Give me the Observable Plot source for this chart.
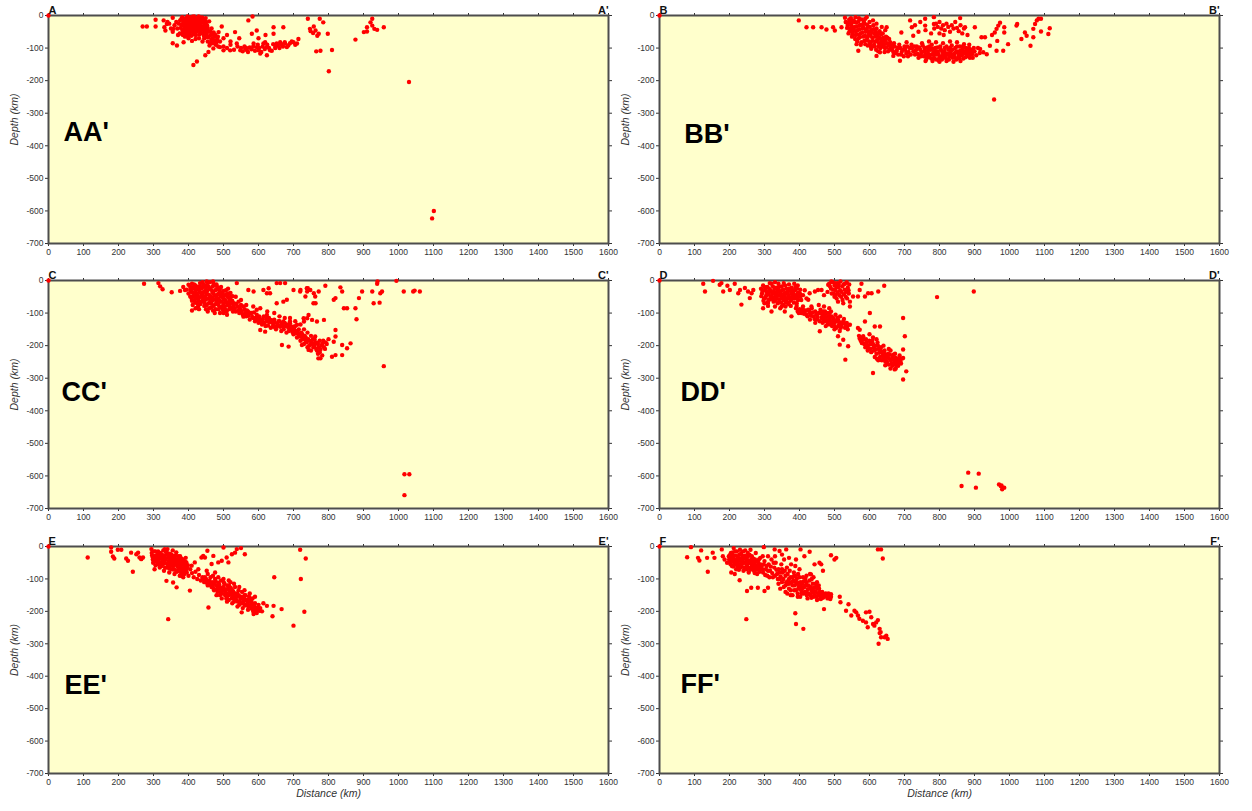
<!DOCTYPE html>
<html><head><meta charset="utf-8">
<script src="https://cdn.jsdelivr.net/npm/d3@7"></script>
<script src="https://cdn.jsdelivr.net/npm/@observablehq/plot@0.6"></script>
<style>
body{margin:0;background:#fff;}
#wrap{position:relative;width:1252px;height:811px;overflow:hidden;background:#fff;}
#wrap svg{position:absolute;}
</style></head><body><div id="wrap"></div>
<script>
// Section names
const sectionNames = ["A","B","C","D","E","F"];
// Axis ticks
const xTicks = d3.range(0, 1601, 100);
const yTicks = d3.range(-700, 1, 100);
// Big section-label anchor (distance km, depth km)
const labelAnchors = [[43,-360],[71,-365],[37,-344],[60,-344],[46,-428],[60,-425]];

// [distance km, depth km]
const quakesA = [
[0,0],[269,-34],[281,-34],[306,-13],[306,-34],[329,-15],[331,-36],[334,-46],[338,-26],[355,-7],[357,-41],[355,-85],[367,-92],[376,-15],[381,-56],[386,-82],[433,-7],[443,-36],[452,-46],[457,-66],[462,-86],[471,-101],[448,-122],[457,-112],[481,-77],[486,-51],[495,-34],[490,-97],[500,-107],[519,-107],[533,-51],[538,-86],[548,-107],[562,-102],[571,-15],[567,-107],[581,-56],[583,-3],[586,-86],[595,-97],[595,-46],[605,-117],[600,-107],[614,-86],[624,-97],[624,-122],[619,-82],[633,-107],[643,-56],[643,-36],[648,-97],[652,-86],[662,-82],[671,-36],[676,-86],[681,-97],[700,-82],[710,-86],[714,-72],[414,-152],[424,-141],
[741,-10],[747,-41],[749,-48],[758,-34],[756,-54],[763,-46],[768,-62],[772,-56],[765,-110],[775,-10],[777,-108],[785,-21],[798,-56],[810,-106],[801,-171],[877,-74],[901,-51],[910,-49],[910,-36],[920,-21],[925,-10],[925,-31],[931,-41],[939,-44],[958,-36],[1030,-204],[1101,-600],[1096,-623],
[380,-10],[385,-22],[388,-35],[392,-8],[395,-18],[398,-28],[400,-40],[402,-5],[405,-15],[407,-25],[410,-35],[412,-45],[415,-12],[418,-22],[420,-32],[422,-50],[425,-8],[428,-18],[430,-28],[432,-40],[435,-12],[438,-22],[440,-55],[383,-45],[390,-52],[396,-60],[403,-52],[408,-62],[414,-58],[420,-42],[426,-38],[392,-28],[399,-12],[416,-3],[424,-26],[433,-50],[411,-18],[405,-44],[397,-48],[386,-30],[378,-38],[372,-25],[368,-40],[365,-20],[360,-30],[375,-55],[370,-60],[445,-30],[448,-42],[450,-20],[452,-55],[455,-38],[458,-65],[462,-48],[465,-75],[468,-58],[470,-85],[475,-65],[478,-90],[482,-72],[485,-95],[460,-92],[455,-80],[445,-70],[440,-80],[430,-70],[420,-72],[410,-78],[400,-70],[390,-65],[345,-25],[350,-40],[340,-20],[355,-50],
[379,-28],[382,-5],[384,-60],[387,-14],[389,-44],[391,-38],[393,-20],[394,-55],[397,-3],[398,-36],[401,-22],[401,-60],[404,-33],[406,-8],[409,-50],[409,-27],[411,-4],[413,-30],[414,-40],[417,-52],[419,-8],[419,-17],[421,-60],[423,-14],[426,-47],[427,-30],[429,-3],[431,-58],[434,-22],[436,-45],[437,-33],[439,-6],[441,-40],[442,-14],[444,-62],[446,-50],[447,-24],[449,-8],[451,-66],[453,-30],[456,-48],[459,-18],[463,-60],[466,-40],[469,-70],[472,-52],[474,-78],[477,-60],[480,-82],[484,-65],
[500,-95],[510,-100],[520,-90],[530,-105],[540,-95],[550,-100],[555,-110],[560,-95],[565,-100],[570,-112],[575,-98],[580,-104],[585,-95],[590,-108],[598,-90],[602,-100],[608,-112],[612,-95],[618,-103],[625,-90],[630,-100],[638,-108],[642,-88],[648,-100],[655,-92],[660,-100],[665,-88],[670,-95],[675,-82],[685,-92],[690,-85],[695,-80],[705,-90],[500,-70],[510,-60],[520,-80],[490,-80],[545,-70],[600,-70],[620,-60]
];

const quakesB = [
[0,0],[398,-15],[420,-36],[439,-36],[463,-36],[477,-43],[496,-36],[501,-46],[520,-36],[530,-7],[534,-21],[568,-108],[563,-88],[592,-5],[620,-124],[630,-113],[649,-36],[663,-93],[668,-124],[687,-139],[691,-52],[706,-82],[716,-15],[721,-36],[725,-62],[735,-103],[744,-124],[759,-10],[759,-31],
[784,-5],[784,-26],[859,-8],[873,-36],[901,-36],[920,-67],[930,-67],[916,-103],[925,-113],[935,-119],[944,-93],[950,-60],[958,-52],[963,-41],[968,-31],[973,-22],[965,-78],[963,-108],[982,-108],[985,-36],[985,-52],[996,-88],[1020,-31],[1022,-26],[1034,-72],[1044,-52],[1049,-62],[1060,-93],[1068,-67],[1068,-41],[1073,-26],[1078,-15],[1083,-10],[1090,-10],[1090,-49],[1111,-57],[1115,-39],[956,-258],
[532,-20],[538,-30],[542,-12],[545,-40],[548,-25],[552,-50],[555,-15],[558,-35],[560,-60],[563,-22],[566,-45],[569,-70],[572,-30],[575,-55],[578,-12],[580,-40],[583,-65],[586,-25],[589,-50],[592,-75],[595,-35],[598,-58],[600,-20],[602,-85],[605,-45],[608,-68],[611,-30],[614,-55],[617,-80],[620,-40],[623,-62],[626,-95],[629,-48],[632,-72],[635,-88],[638,-55],[641,-78],[644,-100],[647,-65],[650,-85],[653,-110],[656,-72],[540,-55],[550,-65],[565,-80],[575,-90],[585,-78],[595,-92],[605,-102],[615,-95],[625,-110],[588,-10],[570,-8],[610,-15],[620,-25],[635,-35],[645,-45],[560,-5],[547,-8],
[536,-38],[541,-22],[543,-48],[546,-15],[549,-33],[551,-58],[554,-42],[557,-20],[559,-72],[561,-48],[564,-34],[567,-58],[568,-18],[571,-42],[573,-66],[576,-28],[577,-82],[579,-52],[582,-35],[584,-20],[587,-62],[588,-88],[590,-42],[593,-28],[594,-68],[597,-48],[599,-80],[601,-35],[603,-62],[604,-95],[607,-52],[609,-78],[612,-42],[613,-90],[616,-65],[618,-50],[619,-105],[622,-75],[624,-55],[627,-85],[628,-68],[631,-100],[633,-58],[634,-80],[637,-95],[639,-68],[642,-88],[643,-112],[646,-75],[649,-98],[651,-68],[654,-90],[657,-105],[659,-82],
[660,-95],[665,-105],[670,-85],[675,-115],[680,-100],[685,-90],[690,-120],[695,-105],[700,-95],[705,-115],[710,-125],[715,-100],[720,-90],[725,-110],[730,-120],[735,-95],[740,-130],[745,-105],[748,-115],[752,-92],[755,-125],[758,-108],[762,-135],[765,-98],[768,-118],[772,-128],[775,-105],[778,-90],[782,-115],[785,-132],[788,-100],[792,-120],[795,-110],[798,-138],[802,-95],[805,-125],[808,-112],[812,-130],[815,-100],[818,-118],[822,-135],[825,-105],[828,-125],[832,-112],[835,-92],[838,-130],[842,-118],[845,-100],[848,-135],[852,-110],[855,-125],[858,-95],[862,-118],[865,-105],[868,-132],[872,-115],[875,-100],[878,-125],[882,-110],[885,-90],[888,-120],[892,-105],[895,-130],[750,-85],[770,-80],[790,-82],[810,-85],[830,-80],[850,-82],[870,-88],[900,-110],[905,-122],[910,-100],[915,-115],[760,-140],[780,-140],[800,-142],[820,-140],[840,-142],[860,-140],
[663,-98],[668,-112],[672,-95],[678,-108],[682,-120],[688,-100],[692,-112],[698,-125],[702,-105],[708,-95],[712,-112],[718,-120],[722,-100],[728,-95],[732,-108],[738,-118],[742,-98],[747,-125],[750,-112],[757,-100],[760,-118],[764,-128],[767,-108],[771,-95],[774,-120],[777,-132],[780,-102],[784,-122],[787,-110],[791,-135],[794,-98],[797,-118],[800,-128],[804,-105],[807,-135],[811,-120],[814,-110],[817,-128],[820,-95],[824,-118],[827,-135],[830,-100],[834,-122],[837,-105],[840,-120],[844,-128],[847,-112],[850,-95],[854,-118],[857,-132],[860,-108],[864,-122],[867,-95],[870,-112],[874,-128],[877,-108],[880,-118],[884,-100],[887,-130],[890,-112],[894,-118],[898,-100],
[790,-25],[795,-35],[800,-20],[805,-40],[810,-30],[815,-45],[820,-25],[825,-35],[830,-50],[835,-30],[840,-40],[845,-20],[850,-38],[855,-48],[860,-30],[865,-55],[870,-40],[880,-60],[800,-55],[812,-60],[785,-40],[776,-55],[760,-45],[740,-50],[730,-30],[745,-20]
];

const quakesC = [
[0,0],[273,-10],[314,-8],[319,-18],[326,-27],[352,-36],[376,-32],[390,-29],[400,-13],[405,-49],[410,-92],[452,-3],[471,-8],[490,-24],[519,-59],[529,-85],[538,-8],[543,-65],[548,-90],[557,-111],[567,-100],[571,-29],[586,-34],[595,-90],[600,-116],[614,-131],[605,-152],[619,-157],[624,-106],[633,-121],[633,-39],[629,-24],[652,-8],[662,-8],[676,-8],[643,-142],[662,-142],[667,-198],[686,-203],[671,-126],[690,-131],[700,-142],[710,-136],[710,-157],[719,-172],[724,-198],[729,-116],[738,-183],[743,-213],[752,-193],[762,-172],[771,-239],[757,-70],[762,-49],[748,-29],[738,-24],[700,-29],[719,-34],[624,-39],[614,-29],[671,-65],[652,-70],[681,-59],
[720,-29],[734,-49],[739,-34],[741,-24],[758,-39],[763,-70],[772,-34],[791,-16],[739,-116],[730,-126],[743,-106],[753,-121],[767,-126],[787,-121],[777,-239],[820,-152],[820,-172],[815,-188],[810,-234],[820,-229],[839,-229],[839,-198],[853,-208],[863,-193],[834,-21],[839,-34],[815,-59],[820,-54],[844,-85],[853,-85],[877,-85],[880,-119],[887,-54],[896,-34],[925,-34],[929,-70],[940,-3],[939,-10],[948,-39],[946,-68],[953,-34],[994,-1],[1015,-34],[1042,-34],[1046,-31],[1061,-34],[958,-263],[1017,-595],[1031,-595],[1017,-659],
[405,-20],[408,-35],[410,-10],[413,-48],[415,-25],[418,-60],[420,-15],[423,-40],[425,-70],[428,-28],[430,-52],[433,-8],[435,-38],[438,-65],[440,-20],[443,-48],[445,-78],[448,-30],[450,-58],[453,-12],[455,-42],[458,-70],[460,-25],[463,-50],[465,-82],[468,-35],[470,-60],[473,-15],[475,-45],[478,-72],[480,-28],[483,-55],[485,-88],[488,-38],[490,-65],[493,-20],[495,-48],[498,-78],[500,-32],[503,-58],[505,-90],[508,-42],[510,-68],[513,-25],[515,-52],[518,-80],[520,-38],[525,-62],[528,-75],[440,-5],[460,-5],[470,-3],[480,-12],[430,-88],[450,-88],[470,-92],[490,-100],[420,-85],[400,-40],[395,-28],[385,-20],[410,-62],[455,-95],[475,-100],[500,-100],[510,-105],
[406,-30],[409,-55],[411,-22],[412,-75],[414,-38],[416,-12],[417,-48],[419,-68],[421,-30],[422,-55],[424,-20],[426,-45],[427,-80],[429,-62],[431,-18],[432,-35],[434,-72],[436,-50],[437,-25],[439,-42],[441,-60],[442,-12],[444,-35],[446,-68],[447,-50],[449,-20],[451,-40],[452,-75],[454,-30],[456,-55],[457,-18],[459,-85],[461,-45],[462,-62],[464,-28],[466,-70],[467,-52],[469,-18],[471,-40],[472,-78],[474,-58],[476,-30],[477,-88],[479,-50],[481,-65],[482,-20],[484,-42],[486,-75],[487,-58],[489,-30],[491,-82],[492,-48],[494,-65],[496,-38],[497,-90],[499,-55],[501,-70],[502,-45],[504,-80],[506,-62],[507,-30],[509,-95],[511,-50],[512,-75],[514,-40],[516,-88],[517,-60],[519,-70],[521,-50],[523,-85],[526,-48],[527,-95],
[530,-70],[535,-95],[540,-80],[545,-100],[550,-75],[555,-105],[560,-88],[565,-110],[570,-95],[575,-120],[580,-100],[585,-115],[590,-125],[595,-105],[600,-130],[605,-118],[610,-135],[615,-110],[620,-140],[625,-125],[630,-115],[635,-145],[640,-130],[645,-120],[650,-150],[655,-135],[660,-125],[665,-155],[670,-140],[675,-130],[680,-160],[685,-145],[690,-125],[695,-150],[700,-165],[705,-140],[710,-175],[715,-150],[720,-185],[725,-165],[730,-195],[735,-175],[740,-205],[745,-185],[750,-215],[755,-195],[760,-180],[765,-210],[770,-195],[775,-220],[780,-200],[785,-185],[790,-210],[795,-195],[800,-180],[740,-160],[750,-170],[760,-200],[770,-225],[782,-230],[730,-150],[720,-135],[705,-125],[690,-115],[675,-115],[660,-110],[645,-100],[625,-95],[605,-85],[585,-80],[565,-75],[550,-60],[535,-50],
[532,-85],[537,-72],[542,-92],[547,-85],[552,-95],[557,-80],[562,-100],[567,-92],[572,-108],[577,-100],[582,-112],[587,-98],[592,-115],[597,-120],[602,-110],[607,-128],[612,-120],[617,-130],[622,-118],[627,-138],[632,-128],[637,-122],[642,-138],[647,-130],[652,-142],[657,-125],[662,-140],[667,-132],[672,-150],[677,-140],[682,-135],[687,-155],[692,-140],[697,-158],[702,-150],[707,-162],[712,-155],[717,-170],[722,-160],[727,-180],[732,-170],[737,-190],[742,-180],[747,-198],[752,-188],[757,-205],[762,-192],[767,-215],[772,-205],[777,-212],[782,-195],[787,-205],[792,-190],[745,-200],[735,-185],[725,-175],[715,-165],[705,-155],[765,-190],[775,-185],[755,-180]
];

const quakesD = [
[0,0],[125,-10],[130,-34],[153,-1],[172,-13],[177,-8],[182,-34],[194,-16],[201,-29],[215,-10],[225,-39],[230,-29],[234,-74],[244,-23],[253,-34],[263,-39],[268,-29],[258,-54],[296,-85],[310,-69],[320,-95],[349,-80],[358,-95],[368,-69],[377,-110],[396,-49],[401,-39],[410,-90],[425,-59],[429,-39],[434,-80],[444,-34],[453,-29],[458,-156],[463,-29],[468,-120],[482,-13],[491,-3],[501,-8],[510,-171],[515,-197],[525,-182],[531,-243],[539,-202],[544,-136],[544,-80],[553,-49],[567,-49],[572,-29],[577,-10],[587,-49],[596,-39],[606,-39],[625,-34],[642,-16],[567,-146],[572,-151],[582,-171],[587,-126],[601,-100],[615,-141],[630,-141],[610,-284],[687,-243],[696,-212],[696,-115],[701,-171],[696,-238],[705,-279],[696,-304],[672,-273],
[793,-51],[898,-34],[882,-590],[912,-593],[863,-631],[904,-636],[970,-626],[975,-631],[979,-641],[985,-636],[977,-629],
[290,-25],[293,-40],[296,-15],[299,-55],[302,-30],[305,-45],[308,-20],[311,-60],[314,-35],[317,-50],[320,-10],[323,-40],[326,-65],[329,-25],[332,-50],[335,-35],[338,-70],[341,-20],[344,-45],[347,-55],[350,-30],[353,-75],[356,-40],[359,-15],[362,-58],[365,-35],[368,-48],[371,-25],[374,-62],[377,-40],[380,-30],[383,-55],[386,-45],[389,-20],[392,-70],[395,-38],[398,-50],[402,-28],[405,-60],[300,-70],[310,-78],[330,-80],[345,-85],[360,-80],[375,-78],[315,-8],[330,-5],[340,-10],[355,-8],[370,-12],[385,-10],[395,-15],[410,-45],[415,-30],[420,-55],
[291,-48],[294,-32],[297,-62],[300,-20],[303,-52],[306,-35],[309,-68],[312,-42],[313,-25],[316,-58],[318,-30],[321,-48],[324,-18],[325,-55],[327,-35],[330,-62],[331,-42],[333,-22],[336,-55],[337,-45],[339,-28],[342,-62],[343,-35],[346,-40],[348,-68],[349,-18],[351,-48],[354,-28],[355,-60],[357,-50],[360,-38],[361,-68],[363,-25],[366,-55],[367,-42],[369,-72],[372,-52],[373,-32],[376,-58],[378,-22],[379,-48],[382,-38],[384,-68],[387,-30],[388,-55],[391,-45],[393,-25],[396,-60],[399,-40],[403,-48],
[390,-85],[395,-95],[400,-88],[405,-100],[410,-80],[415,-95],[420,-105],[425,-90],[430,-100],[435,-85],[440,-110],[445,-95],[450,-120],[455,-100],[460,-90],[463,-115],[466,-130],[470,-105],[473,-95],[476,-120],[480,-135],[483,-110],[486,-100],[490,-125],[493,-140],[496,-115],[500,-130],[503,-105],[506,-145],[510,-120],[513,-135],[516,-110],[520,-140],[525,-125],[530,-145],[535,-130],[538,-150],[455,-75],[470,-80],[485,-85],[445,-130],[430,-120],[500,-150],[515,-155],[490,-95],[475,-140],
[392,-78],[398,-100],[403,-92],[408,-88],[413,-102],[418,-92],[423,-110],[428,-95],[433,-108],[438,-98],[443,-118],[448,-105],[452,-112],[458,-125],[461,-100],[465,-110],[468,-95],[472,-125],[475,-112],[478,-100],[481,-125],[485,-118],[488,-135],[492,-110],[495,-130],[498,-120],[501,-140],[505,-125],[508,-115],[512,-140],[515,-128],[518,-145],[522,-132],[527,-118],[532,-135],[536,-142],
[485,-10],[490,-25],[495,-5],[498,-40],[500,-15],[503,-30],[506,-55],[508,-8],[511,-20],[514,-45],[517,-3],[520,-35],[523,-60],[526,-12],[529,-28],[532,-50],[535,-5],[538,-22],[541,-40],[544,-65],[510,-65],[525,-70],[500,-50],[480,-35],[470,-45],
[487,-18],[492,-40],[496,-28],[502,-45],[505,-20],[509,-38],[512,-12],[516,-30],[519,-50],[522,-18],[527,-42],[530,-10],[533,-35],[536,-55],[540,-30],[542,-12],
[570,-170],[575,-185],[580,-175],[585,-195],[590,-180],[595,-200],[600,-185],[603,-210],[606,-195],[610,-175],[613,-215],[616,-200],[620,-225],[623,-190],[626,-210],[630,-235],[633,-205],[636,-220],[640,-240],[643,-215],[646,-230],[650,-250],[653,-225],[656,-240],[660,-215],[663,-255],[666,-235],[670,-245],[673,-225],[676,-260],[680,-240],[683,-250],[686,-230],[690,-255],[610,-195],[625,-245],[645,-260],[660,-270],[675,-270],[595,-215],[615,-235],[600,-165],[620,-180],[640,-200],[655,-210],
[572,-178],[578,-192],[583,-182],[588,-205],[592,-190],[598,-208],[602,-195],[605,-220],[608,-185],[612,-205],[618,-212],[621,-240],[624,-200],[628,-222],[632,-215],[635,-245],[638,-230],[642,-225],[645,-248],[648,-238],[652,-232],[655,-258],[658,-228],[661,-245],[665,-262],[668,-228],[672,-255],[675,-238],[678,-250],[682,-262],[685,-242],[688,-248],[692,-240]
];

const quakesE = [
[0,0],[112,-34],[179,-3],[179,-16],[184,-31],[188,-37],[198,-10],[208,-10],[222,-37],[227,-44],[236,-19],[241,-78],[251,-24],[256,-19],[260,-34],[265,-39],[270,-34],[294,-8],[298,-34],[303,-70],[313,-54],[332,-8],[337,-106],[342,-224],[356,-111],[366,-126],[370,-75],[380,-90],[394,-49],[404,-136],[409,-59],[418,-49],[428,-70],[437,-34],[442,-29],[447,-34],[452,-75],[454,-13],[457,-188],[466,-54],[471,-29],[476,-80],[485,-49],[495,-44],[500,-3],[509,-34],[514,-49],[524,-24],[533,-19],[538,-8],[550,-5],[561,-24],[514,-131],[533,-162],[552,-203],[586,-208],[600,-193],[614,-175],[624,-183],[640,-215],[643,-183],[645,-95],[666,-193],[700,-244],[719,-10],[721,-100],[735,-37],[731,-201],
[295,-20],[298,-40],[302,-30],[305,-15],[308,-45],[311,-25],[314,-55],[317,-35],[320,-20],[323,-60],[326,-40],[329,-28],[332,-50],[335,-15],[338,-65],[341,-35],[344,-45],[347,-22],[350,-58],[353,-38],[356,-70],[359,-28],[362,-50],[365,-40],[368,-62],[371,-30],[374,-48],[377,-75],[380,-38],[383,-55],[386,-45],[389,-68],[392,-35],[395,-80],[398,-58],[340,-8],[355,-12],[365,-18],[330,-75],[345,-80],[360,-85],[375,-90],[385,-95],[400,-90],[405,-70],[410,-82],[415,-95],[420,-78],[425,-100],[430,-88],[435,-105],
[296,-28],[299,-50],[301,-15],[303,-42],[306,-58],[307,-28],[309,-35],[312,-48],[313,-15],[315,-40],[318,-65],[319,-28],[321,-50],[322,-38],[324,-25],[327,-55],[328,-12],[330,-45],[331,-32],[333,-65],[334,-40],[336,-25],[337,-52],[339,-20],[342,-58],[343,-28],[345,-68],[346,-50],[348,-35],[349,-42],[351,-25],[352,-70],[354,-50],[355,-30],[357,-60],[358,-45],[360,-35],[361,-72],[363,-55],[364,-28],[366,-48],[367,-78],[369,-40],[370,-58],[372,-68],[373,-38],[375,-55],[376,-30],[378,-62],[379,-82],[381,-48],[382,-68],[384,-40],[385,-78],[387,-55],[388,-85],[390,-62],[391,-48],[393,-72],[396,-65],
[440,-95],[445,-110],[450,-100],[455,-120],[460,-105],[463,-95],[466,-125],[470,-110],[473,-135],[476,-100],[480,-120],[483,-140],[486,-112],[490,-130],[493,-105],[496,-145],[500,-125],[503,-115],[506,-140],[510,-155],[513,-130],[516,-120],[520,-145],[523,-160],[526,-135],[530,-150],[533,-125],[536,-165],[540,-145],[543,-135],[546,-170],[550,-155],[553,-140],[556,-175],[560,-160],[563,-150],[566,-180],[570,-165],[573,-155],[576,-185],[580,-170],[583,-160],[586,-190],[590,-175],[595,-195],[600,-180],[605,-190],[610,-200],[500,-100],[515,-105],[530,-115],[545,-125],[560,-135],[575,-145],[590,-155],[480,-150],[495,-160],[510,-170],[525,-175],[540,-185],[555,-190],[570,-195],[585,-200],[595,-205],[520,-110],[505,-150],[490,-150],[470,-90],[485,-95],[455,-85],
[442,-102],[447,-95],[452,-112],[457,-108],[461,-118],[464,-112],[468,-120],[471,-128],[474,-115],[478,-108],[481,-132],[484,-125],[488,-118],[491,-140],[494,-128],[498,-135],[501,-112],[504,-132],[508,-145],[511,-120],[514,-150],[518,-138],[521,-128],[524,-150],[528,-140],[531,-160],[534,-145],[538,-155],[541,-170],[544,-152],[548,-162],[551,-175],[554,-158],[558,-168],[561,-182],[564,-165],[568,-175],[571,-185],[574,-170],[578,-180],[581,-192],[584,-178],[588,-185],[592,-198],[598,-188],[603,-198],[508,-160],[515,-165],[530,-170],[545,-180],[560,-150],[575,-160]
];

const quakesF = [
[0,0],[79,-33],[90,-2],[110,-35],[114,-43],[119,-12],[136,-35],[138,-78],[152,-19],[157,-35],[178,-9],[181,-30],[186,-40],[193,-50],[229,-104],[248,-224],[250,-137],[262,-127],[281,-127],[298,-2],[295,-30],[300,-137],[310,-127],[329,-9],[343,-14],[362,-9],[388,-206],[390,-239],[411,-254],[403,-9],[414,-30],[429,-16],[433,-86],[443,-55],[457,-50],[462,-55],[467,-75],[470,-193],[481,-157],[490,-27],[490,-147],[500,-40],[505,-35],[515,-155],[517,-172],[533,-198],[540,-178],[548,-213],[557,-198],[562,-203],[567,-213],[571,-223],[581,-229],[590,-234],[595,-249],[590,-203],[600,-201],[605,-218],[610,-239],[614,-244],[619,-234],[624,-227],[629,-254],[632,-264],[626,-300],[633,-280],[643,-280],[648,-275],[652,-285],[624,-9],[633,-9],[638,-37],[629,-267],
[198,-30],[201,-45],[204,-20],[207,-60],[210,-35],[213,-50],[216,-15],[219,-70],[222,-40],[225,-55],[228,-25],[231,-65],[234,-45],[237,-30],[240,-75],[243,-50],[246,-35],[249,-60],[252,-20],[255,-80],[258,-45],[261,-65],[264,-30],[267,-55],[270,-75],[273,-40],[276,-60],[279,-85],[282,-50],[285,-70],[288,-35],[205,-80],[215,-85],[230,-10],[245,-12],[260,-10],[275,-20],[212,-5],
[199,-40],[202,-25],[203,-55],[206,-35],[208,-45],[209,-18],[211,-62],[212,-28],[214,-40],[217,-55],[218,-28],[220,-48],[221,-15],[223,-62],[224,-32],[226,-45],[227,-72],[229,-38],[232,-55],[233,-22],[235,-62],[236,-40],[238,-52],[239,-15],[241,-38],[242,-65],[244,-28],[247,-48],[248,-70],[250,-40],[251,-55],[253,-30],[254,-65],[256,-50],[257,-25],[259,-72],[262,-40],[263,-55],[265,-45],[266,-68],[268,-38],[269,-60],[271,-50],[272,-82],[274,-65],[277,-45],[278,-72],[280,-58],[283,-65],[284,-40],[286,-78],[289,-55],
[292,-60],[296,-80],[300,-45],[304,-70],[308,-90],[312,-55],[316,-75],[320,-40],[324,-95],[328,-65],[332,-50],[336,-85],[340,-70],[344,-100],[348,-55],[352,-80],[356,-40],[360,-90],[364,-65],[368,-105],[372,-75],[376,-55],[380,-95],[384,-80],[388,-60],[392,-100],[396,-85],[400,-70],[404,-110],[310,-30],[330,-30],[350,-25],[370,-35],[390,-40],
[294,-70],[298,-55],[302,-88],[306,-60],[310,-75],[314,-95],[318,-62],[322,-82],[326,-50],[330,-90],[334,-72],[338,-100],[342,-80],[346,-92],[350,-70],[354,-100],[358,-75],[362,-110],[366,-85],[370,-115],[374,-95],[378,-110],[382,-105],[386,-120],[389,-92],[393,-115],[397,-130],[400,-112],[403,-125],[406,-145],[409,-128],[412,-108],[415,-140],[418,-120],[421,-150],[424,-132],[427,-145],[431,-125],[434,-158],[437,-142],[440,-128],[443,-150],[446,-138],[449,-155],[452,-130],[455,-150],[458,-140],[461,-162],[464,-148],[467,-158],[472,-148],[478,-152],[483,-145],[488,-162],[360,-120],[375,-135],[390,-135],[405,-115],[420,-110],[435,-100],[445,-115],
[340,-115],[345,-130],[350,-110],[355,-125],[360,-140],[365,-115],[370,-130],[375,-150],[380,-120],[385,-135],[390,-110],[395,-145],[398,-125],[402,-155],[405,-135],[408,-115],[411,-145],[414,-125],[417,-100],[420,-140],[423,-160],[426,-120],[429,-105],[432,-150],[435,-135],[438,-115],[441,-155],[444,-140],[447,-125],[450,-165],[453,-145],[456,-130],[459,-160],[462,-150],[410,-95],[420,-90],[430,-85],[440,-95],[450,-110],[455,-120],[465,-140],[470,-155],[475,-145],[480,-160],[485,-150],[490,-155],[395,-155],[380,-150],[365,-145],[370,-100],[385,-90],[400,-95]
];

const quakes = [quakesA, quakesB, quakesC, quakesD, quakesE, quakesF];

const wrap = document.getElementById("wrap");
const colLeft = [0, 611];
const rowTop = [0, 265, 531];
const fontSans = "Liberation Sans, Arial, Helvetica, sans-serif";
const plain = d => String(d);

sectionNames.forEach((name, i) => {
  const col = i % 2, row = Math.floor(i / 2);
  const isBottom = row === 2;
  const mb = isBottom ? 38 : 22;
  const fh = isBottom ? 227 : 228;
  const marks = [
    Plot.frame({fill: "#ffffcc"}),
    Plot.axisX({anchor: "bottom", ticks: xTicks, tickSize: 3, tickPadding: 2, tickFormat: plain, label: null, fontSize: 8.5}),
    Plot.axisX({anchor: "top", ticks: xTicks, tickSize: 3, tickFormat: () => "", label: null}),
    Plot.axisY({anchor: "left", ticks: yTicks, tickSize: 3, tickPadding: 2, tickFormat: plain, label: null, fontSize: 8.5}),
    Plot.axisY({anchor: "right", ticks: yTicks, tickSize: 3, tickFormat: () => "", label: null}),
    Plot.frame({stroke: "#4d4d4d", strokeWidth: 2}),
    Plot.dot(quakes[i], {x: d => d[0], y: d => d[1], r: 2.2, fill: "#ff0000"}),
    Plot.text([name], {text: d => d, frameAnchor: "top-left", dy: -9, fontWeight: "bold", fontSize: 11, fill: "#111"}),
    Plot.text([name + "'"], {text: d => d, frameAnchor: "top-right", dy: -9, fontWeight: "bold", fontSize: 11, fill: "#111"}),
    Plot.text([name + name + "'"], {text: d => d, x: labelAnchors[i][0], y: labelAnchors[i][1], textAnchor: "start", fontSize: 27, fontWeight: "bold", fill: "#000"}),
    Plot.text(["Depth (km)"], {text: d => d, frameAnchor: "left", dx: -34, dy: 16, rotate: -90, fontStyle: "italic", fontSize: 10.5, fill: "#333"})
  ];
  if (isBottom) marks.push(Plot.text(["Distance (km)"], {text: d => d, frameAnchor: "bottom", dy: 23, fontStyle: "italic", fontSize: 10.5, fill: "#333"}));
  const chart = Plot.plot({
    width: 622, height: 15 + fh + mb,
    marginLeft: 48, marginRight: 14, marginTop: 15, marginBottom: mb,
    x: {domain: [0, 1600]},
    y: {domain: [-700, 0]},
    style: {background: "transparent", fontFamily: fontSans, fontSize: "9px", color: "#333", overflow: "visible"},
    marks
  });
  chart.style.position = "absolute";
  chart.style.left = colLeft[col] + "px";
  chart.style.top = rowTop[row] + "px";
  chart.style.maxWidth = "none";
  wrap.appendChild(chart);
});
</script></body></html>
